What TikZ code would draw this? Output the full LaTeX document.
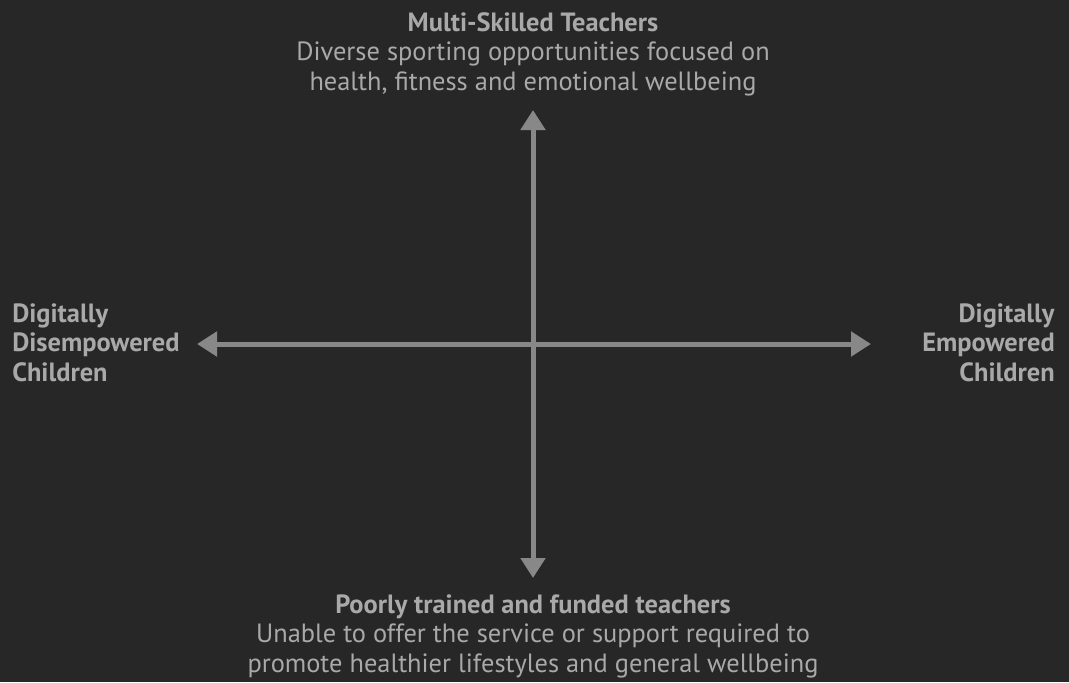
\documentclass[tikz,border=0pt]{standalone}
\usepackage{fontspec}
\setmainfont{PT Sans}
\usetikzlibrary{arrows.meta}
\definecolor{bg}{HTML}{272727}
\definecolor{txt}{HTML}{A9A9A9}
\definecolor{axis}{HTML}{888888}
\begin{document}
\begin{tikzpicture}[x=0.75pt,y=-0.75pt,
  axisline/.style={draw=axis,line width=3.75pt,-{Triangle[width=18pt,length=15pt]}},
  lbl/.style={text=txt,font=\fontsize{19.8pt}{22pt}\selectfont,inner sep=0pt},
  ]
\fill[bg] (0,0) rectangle (1069,682);
\useasboundingbox (0,0) rectangle (1069,682);
\coordinate (c) at (533,344);
\coordinate (t) at (533,110);
\coordinate (b) at (533,578);
\coordinate (l) at (197,344);
\coordinate (r) at (871,344);
\draw[axisline] (c) -- (t);
\draw[axisline] (c) -- (b);
\draw[axisline] (c) -- (l);
\draw[axisline] (c) -- (r);
\node[lbl,align=center,anchor=base] (top) at (533,90) {\textbf{Multi-Skilled Teachers}\\Diverse sporting opportunities focused on\\health, fitness and emotional wellbeing};
\node[lbl,align=left,anchor=base west] (left) at (12,381) {\textbf{Digitally}\\\textbf{Disempowered}\\\textbf{Children}};
\node[lbl,align=right,anchor=base east] (right) at (1055,381) {\textbf{Digitally}\\\textbf{Empowered}\\\textbf{Children}};
\node[lbl,align=center,anchor=base] (bot) at (533,672) {\textbf{Poorly trained and funded teachers}\\Unable to offer the service or support required to\\promote healthier lifestyles and general wellbeing};
\end{tikzpicture}
\end{document}
